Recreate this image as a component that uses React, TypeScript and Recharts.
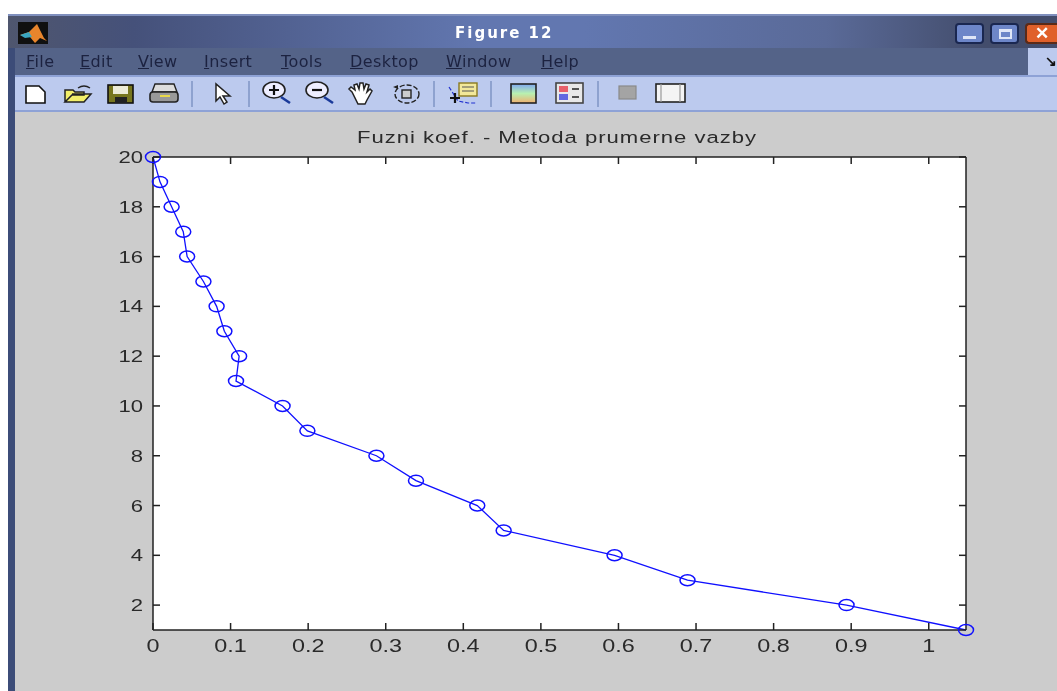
import { LineChart, Line, XAxis, YAxis } from "recharts"

const levels = [20, 19, 18, 17, 16, 15, 14, 13, 12, 11, 10, 9, 8, 7, 6, 5, 4, 3, 2, 1]
const coefs = [
  0, 0.009, 0.024, 0.039, 0.044, 0.065, 0.082, 0.092, 0.111, 0.107, 0.167, 0.199, 0.288, 0.339,
  0.418, 0.452, 0.595, 0.689, 0.894, 1.048,
]
const xTicks = [0, 0.1, 0.2, 0.3, 0.4, 0.5, 0.6, 0.7, 0.8, 0.9, 1]
const yTicks = [2, 4, 6, 8, 10, 12, 14, 16, 18, 20]
const menuItems = ["File", "Edit", "View", "Insert", "Tools", "Desktop", "Window", "Help"]
const menuLeft = [26, 80, 138, 204, 281, 350, 446, 541]
const separators = [192, 249, 434, 491, 598]

const chartData = levels.map((level, i) => ({ level, coef: coefs[i] }))
const FONT = '"Liberation Sans", Arial, sans-serif'
const UI_FONT = '"DejaVu Sans", Verdana, sans-serif'
const AXIS = "#222222"
const BLUE = "#1010ff"
// the screenshot is stretched sideways, so the chart text is too
const STRETCH = 1.3

function CircleDot(props: { cx?: number; cy?: number }) {
  return <ellipse cx={props.cx} cy={props.cy} rx={7.5} ry={5.5} fill="none" stroke={BLUE} strokeWidth={1.5} />
}

function XTick(props: any) {
  return (
    <text
      transform={`translate(${props.x},${props.y + 15}) scale(${STRETCH},1)`}
      textAnchor="middle"
      fontFamily={FONT}
      fontSize={18}
      fill="#2a2a2a"
    >
      {props.payload.value}
    </text>
  )
}

function YTick(props: any) {
  return (
    <text
      transform={`translate(${props.x},${props.y + 6}) scale(${STRETCH},1)`}
      textAnchor="end"
      fontFamily={FONT}
      fontSize={17}
      fill="#2a2a2a"
    >
      {props.payload.value}
    </text>
  )
}

function ToolbarIcons() {
  return (
    <svg width={1057} height={36} viewBox="0 76 1057 36" style={{ position: "absolute", left: 0, top: 76 }}>
      {separators.map((x) => (
        <line key={x} x1={x} x2={x} y1={81} y2={107} stroke="#8ea2cf" strokeWidth={2} />
      ))}
      {/* new */}
      <path d="M26 86h13l6 6v11H26z" fill="#fff" stroke="#111" strokeWidth={1.6} />
      {/* open */}
      <path d="M65 102V90h8l2 2h9v3H72l-7 7h19l7-8H72" fill="#f2ef6a" stroke="#222" strokeWidth={1.5} />
      <path d="M78 88q6-4 12 0" fill="none" stroke="#222" strokeWidth={1.4} />
      {/* save */}
      <rect x={108} y={85} width={25} height={18} fill="#77761f" stroke="#111" strokeWidth={1.6} />
      <rect x={113} y={86} width={15} height={8} fill="#ecebd8" />
      <rect x={115} y={97} width={12} height={6} fill="#222" />
      {/* print */}
      <path d="M155 84h19l3 8h-25z" fill="#ddd" stroke="#222" strokeWidth={1.4} />
      <rect x={150} y={92} width={28} height={10} rx={3} fill="#999" stroke="#222" strokeWidth={1.6} />
      <line x1={160} x2={170} y1={96} y2={96} stroke="#e8d84a" strokeWidth={2} />
      {/* arrow */}
      <path d="M216 84v17l4-4 4 7 3-2-4-6h7z" fill="#fff" stroke="#222" strokeWidth={1.5} />
      {/* zoom in */}
      <ellipse cx={274} cy={90} rx={11} ry={8} fill="#eef" stroke="#222" strokeWidth={1.6} />
      <path d="M269 90h10M274 85v10" stroke="#111" strokeWidth={2.2} />
      <line x1={281} x2={290} y1={97} y2={103} stroke="#1a3a9a" strokeWidth={2.6} />
      {/* zoom out */}
      <ellipse cx={317} cy={90} rx={11} ry={8} fill="#eef" stroke="#222" strokeWidth={1.6} />
      <path d="M312 90h10" stroke="#111" strokeWidth={2.2} />
      <line x1={324} x2={333} y1={97} y2={103} stroke="#1a3a9a" strokeWidth={2.6} />
      {/* hand */}
      <path
        d="M352 92l-3-3 2-2 4 3-1-5 3-1 2 5 1-6h3l1 6 2-5 3 1-2 7 3-3 2 2-5 9-2 4h-7z"
        fill="#fff"
        stroke="#222"
        strokeWidth={1.5}
      />
      {/* rotate */}
      <ellipse cx={407} cy={94} rx={12} ry={9} fill="none" stroke="#222" strokeWidth={1.4} strokeDasharray="5 2" />
      <rect x={402} y={90} width={9} height={8} fill="#ccc" stroke="#222" strokeWidth={1.4} />
      <path d="M393 87l5-2v4z" fill="#222" />
      {/* data cursor */}
      <rect x={459} y={83} width={18} height={13} fill="#f2e89a" stroke="#8a7a20" strokeWidth={1.4} />
      <path d="M462 87h12M462 91h12" stroke="#555" strokeWidth={1.2} />
      <path d="M449 87l9 14 10 2h8" fill="none" stroke="#2030d0" strokeWidth={1.2} strokeDasharray="4 2" />
      <path d="M450 98h10M455 93v10" stroke="#111" strokeWidth={2.2} />
      {/* colorbar */}
      <defs>
        <linearGradient id="cbar" x1="0" y1="0" x2="0" y2="1">
          <stop offset="0%" stopColor="#7fa8f0" />
          <stop offset="50%" stopColor="#b8f0b0" />
          <stop offset="100%" stopColor="#f0b070" />
        </linearGradient>
      </defs>
      <rect x={511} y={84} width={25} height={19} fill="url(#cbar)" stroke="#222" strokeWidth={1.6} />
      {/* legend */}
      <rect x={556} y={83} width={27} height={20} fill="#e8e8e8" stroke="#444" strokeWidth={1.6} />
      <rect x={559} y={86} width={9} height={6} fill="#e8606a" />
      <rect x={559} y={94} width={9} height={6} fill="#6068e0" />
      <path d="M572 89h7M572 97h7" stroke="#222" strokeWidth={1.4} />
      {/* plot tools */}
      <rect x={619} y={86} width={17} height={13} fill="#a4a4a4" stroke="#8a8a8a" strokeWidth={1.2} />
      <rect x={656} y={84} width={29} height={18} fill="#f4f4f4" stroke="#222" strokeWidth={1.6} />
      <path d="M661 84v18M680 84v18" stroke="#999" strokeWidth={1.2} />
    </svg>
  )
}

function WindowFrame() {
  return (
    <>
      <div
        style={{
          position: "absolute",
          left: 8,
          top: 14,
          width: 1049,
          height: 34,
          borderTop: "2px solid #7f8fbd",
          boxSizing: "border-box",
          background:
            "linear-gradient(90deg,#4f566e 0%,#45517a 12%,#6277b0 45%,#6277b0 55%,#5a6a98 78%,#434d6c 93%,#434d6c 100%)",
        }}
      />
      <svg width={36} height={30} style={{ position: "absolute", left: 18, top: 22 }}>
        <rect x={0} y={0} width={30} height={22} fill="#101010" />
        <path d="M2 13l9-3 8-8 7 14 3 3-7-3-5 5-5-6z" fill="#e8852c" />
        <path d="M2 13l9-3 3 5-7 1z" fill="#3aa6c0" />
      </svg>
      <div
        style={{
          position: "absolute",
          left: 455,
          top: 24,
          fontFamily: UI_FONT,
          fontWeight: 700,
          fontSize: 15,
          letterSpacing: 2,
          color: "#fff",
        }}
      >
        Figure 12
      </div>
      {[955, 990].map((x) => (
        <div
          key={x}
          style={{
            position: "absolute",
            left: x,
            top: 23,
            width: 29,
            height: 21,
            boxSizing: "border-box",
            borderRadius: 4,
            border: "2px solid #1a2750",
            background: "#6d86c8",
          }}
        />
      ))}
      <div style={{ position: "absolute", left: 963, top: 36, width: 13, height: 3, background: "#dfe6f7" }} />
      <div
        style={{
          position: "absolute",
          left: 999,
          top: 29,
          width: 13,
          height: 10,
          boxSizing: "border-box",
          border: "2px solid #dfe6f7",
          borderTopWidth: 3,
        }}
      />
      <div
        style={{
          position: "absolute",
          left: 1025,
          top: 23,
          width: 32,
          height: 21,
          boxSizing: "border-box",
          borderRadius: "4px 0 0 4px",
          border: "2px solid #5a2a18",
          borderRight: "none",
          background: "#e0602a",
          color: "#fff",
          fontFamily: FONT,
          fontWeight: 700,
          fontSize: 17,
          lineHeight: "17px",
          paddingLeft: 8,
        }}
      >
        ✕
      </div>
      <div style={{ position: "absolute", left: 8, top: 48, width: 7, height: 643, background: "#3c4c78" }} />
      <div style={{ position: "absolute", left: 15, top: 48, width: 1013, height: 28, background: "#546388" }} />
      <div
        style={{
          position: "absolute",
          left: 1028,
          top: 48,
          width: 29,
          height: 28,
          background: "#bccaee",
          color: "#111",
          fontFamily: FONT,
          fontWeight: 700,
          fontSize: 14,
          lineHeight: "26px",
          textAlign: "right",
        }}
      >
        ↘
      </div>
      {menuItems.map((item, i) => (
        <div
          key={item}
          style={{
            position: "absolute",
            left: menuLeft[i],
            top: 52,
            fontFamily: UI_FONT,
            fontSize: 16,
            letterSpacing: 0.4,
            color: "#1c2240",
          }}
        >
          <span style={{ textDecoration: "underline" }}>{item[0]}</span>
          {item.slice(1)}
        </div>
      ))}
      <div
        style={{
          position: "absolute",
          left: 15,
          top: 75,
          width: 1042,
          height: 37,
          background: "#bccaee",
          borderTop: "2px solid #8ea2d6",
          borderBottom: "2px solid #8ea2d6",
          boxSizing: "border-box",
        }}
      />
      <ToolbarIcons />
    </>
  )
}

export default function App() {
  return (
    <div
      style={{
        position: "absolute",
        left: 0,
        top: 0,
        width: 1057,
        height: 691,
        overflow: "hidden",
        background: "#fff",
        filter: "blur(0.4px)",
      }}
    >
      <div style={{ position: "absolute", left: 15, top: 112, width: 1042, height: 579, background: "#cccccc" }} />
      <WindowFrame />
      <div style={{ position: "absolute", left: 0, top: 0 }}>
        <LineChart
          width={1057}
          height={691}
          data={chartData}
          margin={{ top: 147, right: 81, bottom: 31, left: 103 }}
        >
          <rect x={153} y={157} width={813} height={473} fill="#fff" />
          <text
            transform={`translate(557,143) scale(${STRETCH},1)`}
            textAnchor="middle"
            fontFamily={FONT}
            fontSize={17}
            letterSpacing={0.75}
            fill="#2a2a2a"
          >
            Fuzni koef. - Metoda prumerne vazby
          </text>
          <XAxis
            type="number"
            dataKey="coef"
            domain={[0, 1.048]}
            ticks={xTicks}
            height={30}
            interval={0}
            tickSize={-7}
            tickMargin={14}
            axisLine={{ stroke: AXIS, strokeWidth: 1.5 }}
            tickLine={{ stroke: AXIS, strokeWidth: 1.5 }}
            tick={(p: any) => <XTick {...p} />}
          />
          <XAxis
            xAxisId="top"
            orientation="top"
            type="number"
            dataKey="coef"
            domain={[0, 1.048]}
            ticks={xTicks}
            tickFormatter={() => ""}
            height={10}
            interval={0}
            tickSize={-7}
            axisLine={{ stroke: AXIS, strokeWidth: 1.5 }}
            tickLine={{ stroke: AXIS, strokeWidth: 1.5 }}
          />
          <YAxis
            type="number"
            dataKey="level"
            domain={[1, 20]}
            ticks={yTicks}
            width={50}
            interval={0}
            tickSize={-7}
            tickMargin={17}
            axisLine={{ stroke: AXIS, strokeWidth: 1.5 }}
            tickLine={{ stroke: AXIS, strokeWidth: 1.5 }}
            tick={(p: any) => <YTick {...p} />}
          />
          <YAxis
            yAxisId="right"
            orientation="right"
            type="number"
            dataKey="level"
            domain={[1, 20]}
            ticks={yTicks}
            tickFormatter={() => ""}
            width={10}
            interval={0}
            tickSize={-7}
            axisLine={{ stroke: AXIS, strokeWidth: 1.5 }}
            tickLine={{ stroke: AXIS, strokeWidth: 1.5 }}
          />
          {/* invisible copy so the top and right axes get a real scale */}
          <Line
            xAxisId="top"
            yAxisId="right"
            dataKey="level"
            stroke="none"
            dot={false}
            isAnimationActive={false}
          />
          <Line
            dataKey="level"
            type="linear"
            stroke={BLUE}
            strokeWidth={1.3}
            dot={(p: any) => <CircleDot key={p.index} cx={p.cx} cy={p.cy} />}
            isAnimationActive={false}
          />
        </LineChart>
      </div>
    </div>
  )
}
